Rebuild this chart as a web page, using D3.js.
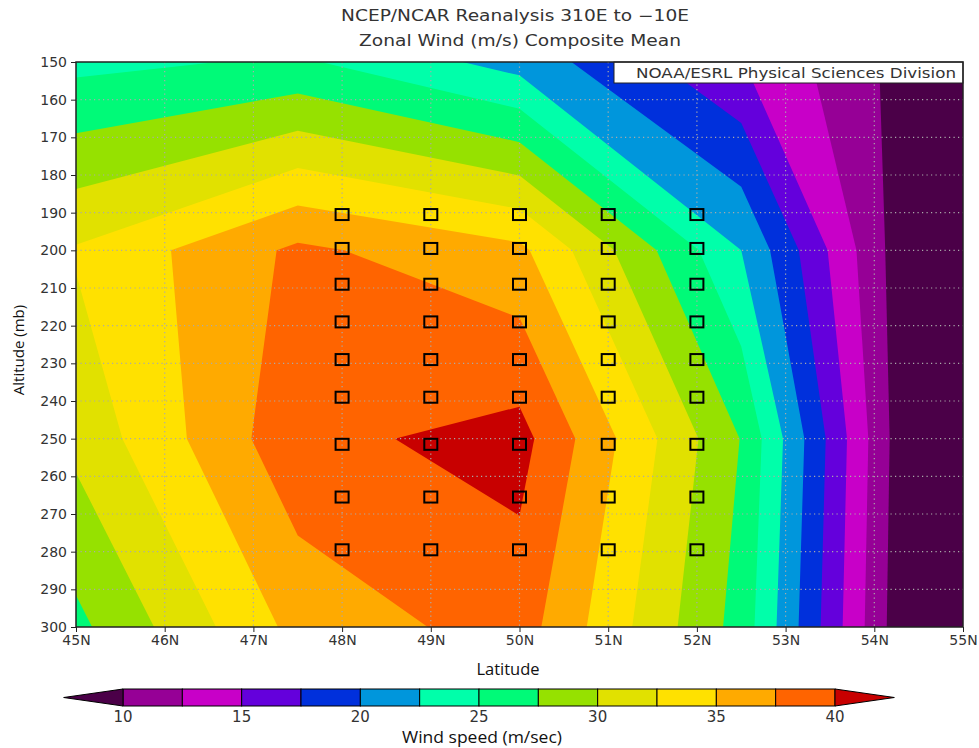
<!DOCTYPE html>
<html>
<head>
<meta charset="utf-8">
<script src="https://cdn.jsdelivr.net/npm/d3@7"></script>
<style>
  body { margin: 0; background: #fff; }
  svg text { font-family: "DejaVu Sans", sans-serif; fill: #333; }
  .label { font-family: "Open Sans", sans-serif; fill: #111; }
</style>
</head>
<body>
<div id="chart"></div>
<script>
// reanalysis grid, 2.5 deg by standard levels (mb)
const lats = [45, 47.5, 50, 52.5, 55]
const levels = [150, 200, 250, 300]
// zonal wind (m/s) on each level, west to east
const wind150 = [24.3, 25.4, 21.5, 15.1, 6.9]
const wind200 = [32.75, 38.0, 35.6, 22.5, 3.25]
const wind250 = [30.7, 39.3, 40.9, 27.4, 1.4]
const wind300 = [26.85, 35.8, 38.7, 26.5, 1.35]

const thresholds = [10, 12.5, 15, 17.5, 20, 22.5, 25, 27.5, 30, 32.5, 35, 37.5, 40]
const colors = ["#4b0048", "#960096", "#c800c8", "#6400dc", "#0030dc", "#0096dc",
  "#00ffaa", "#00fa78", "#96e100", "#e1e100", "#ffe100", "#ffaa00", "#ff6400", "#c80000"]
const colorbarLabels = [10, 15, 20, 25, 30, 35, 40]

const latTicks = [45, 46, 47, 48, 49, 50, 51, 52, 53, 54, 55]
const levelTicks = [150, 160, 170, 180, 190, 200, 210, 220, 230, 240, 250, 260, 270, 280, 290, 300]

// observation boxes
const obsLats = [48, 49, 50, 51, 52]
const obsLevels = [190.5, 199.5, 209, 219, 229, 239, 251.5, 265.5, 279.5]

;(function () {
    const W = 979, H = 748
    const margin = { top: 62, right: 16, bottom: 121, left: 76 }
    const width = W - margin.left - margin.right,
        height = H - margin.top - margin.bottom

    const svg = d3.select("#chart")
        .append("svg")
        .attr("width", W)
        .attr("height", H)

    const x = d3.scaleLinear().domain([45, 55]).range([margin.left, margin.left + width])
    const y = d3.scaleLinear().domain([150, 300]).range([margin.top, margin.top + height])

    // contour grid coords -> lat / level (d3 puts cell centres at i + 0.5)
    const gridLat = d3.scaleLinear().domain([0.5, lats.length - 0.5]).range([lats[0], lats[lats.length - 1]])
    const gridLev = d3.scaleLinear().domain([0.5, levels.length - 0.5]).range([levels[0], levels[levels.length - 1]])

    const toScreen = d3.geoTransform({
        point: function (gx, gy) { this.stream.point(x(gridLat(gx)), y(gridLev(gy))) }
    })
    const path = d3.geoPath(toScreen)

    const values = [].concat(wind150, wind200, wind250, wind300)
    const bands = d3.contours()
        .size([lats.length, levels.length])
        .thresholds(thresholds)(values)

    svg.append("clipPath").attr("id", "plot-clip")
        .append("rect")
        .attr("x", x(45)).attr("y", y(150))
        .attr("width", x(55) - x(45)).attr("height", y(300) - y(150))

    const plot = svg.append("g").attr("clip-path", "url(#plot-clip)")

    plot.append("rect")
        .attr("x", x(45)).attr("y", y(150))
        .attr("width", x(55) - x(45)).attr("height", y(300) - y(150))
        .attr("fill", colors[0])

    plot.selectAll("path.band")
        .data(bands)
        .enter().append("path")
        .attr("class", "band")
        .attr("d", path)
        .attr("fill", (d, i) => colors[i + 1])

    // dotted grid
    plot.selectAll("line.vgrid")
        .data(latTicks.slice(1, -1))
        .enter().append("line")
        .attr("x1", d => x(d)).attr("x2", d => x(d))
        .attr("y1", y(150)).attr("y2", y(300))
        .attr("stroke", "#aaa").attr("stroke-width", 1.2)
        .attr("stroke-dasharray", "1.2,3.3")

    plot.selectAll("line.hgrid")
        .data(levelTicks.slice(1, -1))
        .enter().append("line")
        .attr("y1", d => y(d)).attr("y2", d => y(d))
        .attr("x1", x(45)).attr("x2", x(55))
        .attr("stroke", "#aaa").attr("stroke-width", 1.2)
        .attr("stroke-dasharray", "1.2,3.3")

    // observation squares
    const obs = []
    obsLevels.forEach(p => obsLats.forEach(la => obs.push({ lat: la, p: p })))
    svg.selectAll("rect.obs")
        .data(obs)
        .enter().append("rect")
        .attr("class", "obs")
        .attr("x", d => x(d.lat) - 6.5)
        .attr("y", d => y(d.p) - 5.5)
        .attr("width", 13).attr("height", 11)
        .attr("fill", "none").attr("stroke", "#000").attr("stroke-width", 2)

    // credit box
    svg.append("rect")
        .attr("x", 614).attr("y", y(150))
        .attr("width", x(55) - 614).attr("height", 21)
        .attr("fill", "#fff").attr("stroke", "#222").attr("stroke-width", 1)
    svg.append("text")
        .attr("x", 636).attr("y", 78)
        .attr("textLength", 320).attr("lengthAdjust", "spacingAndGlyphs")
        .style("font-size", "14px")
        .text("NOAA/ESRL Physical Sciences Division")

    // frame
    svg.append("rect")
        .attr("x", x(45)).attr("y", y(150))
        .attr("width", x(55) - x(45)).attr("height", y(300) - y(150))
        .attr("fill", "none").attr("stroke", "#222").attr("stroke-width", 1.5)

    const yAxis = d3.axisLeft(y).tickValues(levelTicks).tickSize(5).tickPadding(4)
    const gy = svg.append("g")
        .attr("transform", "translate(" + x(45) + ",0)")
        .call(yAxis)
    const xAxis = d3.axisBottom(x).tickValues(latTicks).tickSize(5).tickPadding(3).tickFormat(d => d + "N")
    const gx = svg.append("g")
        .attr("transform", "translate(0," + y(300) + ")")
        .call(xAxis)
    ;[gx, gy].forEach(g => {
        g.select(".domain").remove()
        g.selectAll(".tick line").attr("stroke", "#222")
        g.selectAll(".tick text")
            .attr("fill", "#333")
            .style("font-family", "DejaVu Sans, sans-serif")
            .style("font-size", "14px")
    })

    // titles
    svg.append("text")
        .attr("x", 515).attr("y", 21)
        .attr("text-anchor", "middle")
        .attr("textLength", 348).attr("lengthAdjust", "spacingAndGlyphs")
        .style("font-size", "15px")
        .text("NCEP/NCAR Reanalysis 310E to \u221210E")
    svg.append("text")
        .attr("x", 520).attr("y", 46)
        .attr("text-anchor", "middle")
        .attr("textLength", 322).attr("lengthAdjust", "spacingAndGlyphs")
        .style("font-size", "15px")
        .text("Zonal Wind (m/s) Composite Mean")

    svg.append("text")
        .attr("class", "label")
        .attr("transform", "translate(24,350) rotate(-90)")
        .attr("text-anchor", "middle")
        .style("font-size", "15px")
        .text("Altitude (mb)")

    svg.append("text")
        .attr("class", "label")
        .attr("x", 508).attr("y", 675)
        .attr("text-anchor", "middle")
        .style("font-size", "16.5px")
        .text("Latitude")

    // colour bar
    const cb = d3.scaleLinear().domain([10, 40]).range([123, 835])
    const barTop = 689, barBottom = 706, barMid = (barTop + barBottom) / 2
    const arrow = cb(thresholds[1]) - cb(thresholds[0])
    const bar = svg.append("g")

    bar.selectAll("rect")
        .data(d3.pairs(thresholds))
        .enter().append("rect")
        .attr("x", d => cb(d[0]))
        .attr("y", barTop)
        .attr("width", d => cb(d[1]) - cb(d[0]))
        .attr("height", barBottom - barTop)
        .attr("fill", (d, i) => colors[i + 1])
        .attr("stroke", "#000").attr("stroke-width", 1)

    bar.append("path")
        .attr("d", d3.line()([[cb(10), barTop], [cb(10) - arrow, barMid], [cb(10), barBottom]]) + "Z")
        .attr("fill", colors[0]).attr("stroke", "#000")
    bar.append("path")
        .attr("d", d3.line()([[cb(40), barTop], [cb(40) + arrow, barMid], [cb(40), barBottom]]) + "Z")
        .attr("fill", colors[colors.length - 1]).attr("stroke", "#000")

    bar.selectAll("text")
        .data(colorbarLabels)
        .enter().append("text")
        .attr("x", d => cb(d))
        .attr("y", 722)
        .attr("text-anchor", "middle")
        .style("font-size", "15px")
        .text(d => d)

    svg.append("text")
        .attr("class", "label")
        .attr("x", 482).attr("y", 743)
        .attr("text-anchor", "middle")
        .attr("textLength", 160).attr("lengthAdjust", "spacingAndGlyphs")
        .style("font-size", "16.5px")
        .text("Wind speed (m/sec)")
})()
</script>
</body>
</html>
